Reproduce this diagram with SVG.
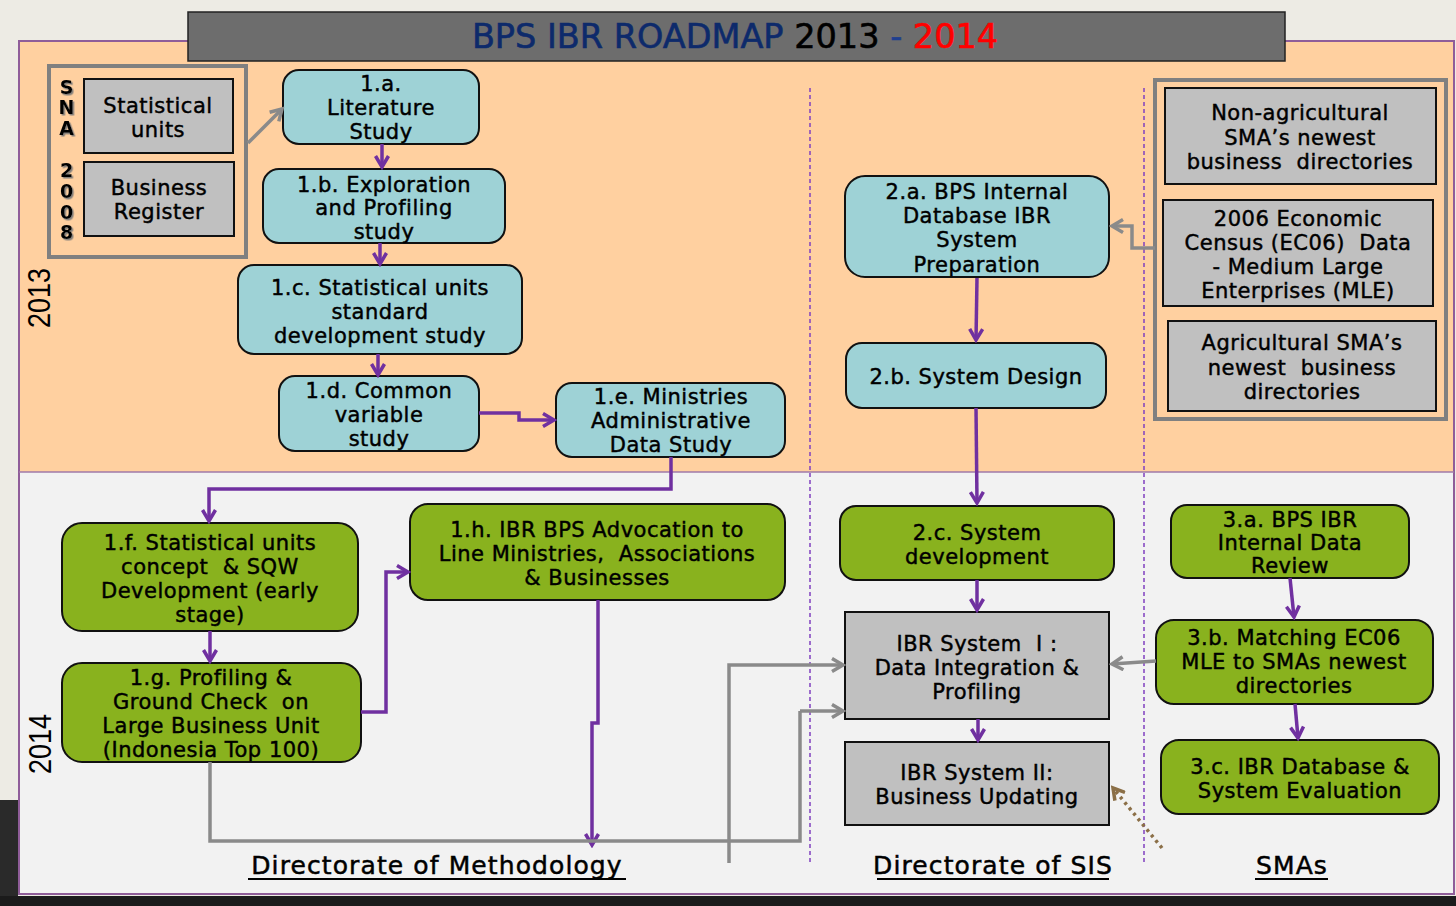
<svg xmlns="http://www.w3.org/2000/svg" width="1456" height="906" viewBox="0 0 1456 906">
<style>
.t{font-family:"DejaVu Sans",sans-serif;font-size:21px;letter-spacing:0.5px;text-anchor:middle;fill:#000;stroke:#000;stroke-width:0.45}
.teal{fill:#9ED2D6;stroke:#111;stroke-width:2}
.green{fill:#89B21E;stroke:#111;stroke-width:2}
.gray{fill:#C0C0C0;stroke:#111;stroke-width:2}
.pl{fill:none;stroke:#7030A0;stroke-width:3.5;marker-end:url(#ap)}
.gl{fill:none;stroke:#8A8A8A;stroke-width:3.5}
.ga{marker-end:url(#ag)}
.dash{stroke:#8040C0;stroke-width:1.5;stroke-dasharray:4 3}
.dir{font-family:"DejaVu Sans",sans-serif;font-size:25px;letter-spacing:1.1px;text-anchor:middle;fill:#000;stroke:#000;stroke-width:0.5}
.sna{font-family:"DejaVu Sans",sans-serif;font-size:19px;font-weight:bold;text-anchor:middle;fill:#000}
.yr{font-family:"Liberation Sans",sans-serif;font-size:32px;text-anchor:middle;fill:#000}
</style>
<defs>
<marker id="ap" viewBox="0 0 16 16" refX="13" refY="8" markerWidth="16" markerHeight="16" markerUnits="userSpaceOnUse" orient="auto"><path d="M2,1.5 L13,8 L2,14.5" fill="none" stroke="#7030A0" stroke-width="3.5"/></marker>
<marker id="ag" viewBox="0 0 16 16" refX="13" refY="8" markerWidth="16" markerHeight="16" markerUnits="userSpaceOnUse" orient="auto"><path d="M2,1.5 L13,8 L2,14.5" fill="none" stroke="#8A8A8A" stroke-width="3.5"/></marker>
<marker id="ab" viewBox="0 0 16 16" refX="13" refY="8" markerWidth="16" markerHeight="16" markerUnits="userSpaceOnUse" orient="auto"><path d="M2,1.5 L13,8 L2,14.5" fill="none" stroke="#8B6F47" stroke-width="3.5"/></marker>
<filter id="sh" x="-50%" y="-50%" width="200%" height="200%"><feDropShadow dx="1.5" dy="1.5" stdDeviation="0.6" flood-color="#777" flood-opacity="0.9"/></filter>
</defs>
<!-- page background -->
<rect x="0" y="0" width="1456" height="906" fill="#EDEBE4"/>
<rect x="0" y="800" width="18" height="106" fill="#2A2A2A"/>
<rect x="0" y="896" width="1456" height="10" fill="#1B1B1B"/>
<!-- frame -->
<g id="frame">
<rect x="19" y="41" width="1435" height="431" fill="#FFD0A0"/>
<rect x="19" y="472" width="1435" height="422" fill="#F2F2F2"/>
<rect x="19" y="41" width="1435" height="853" fill="none" stroke="#8F5D99" stroke-width="2"/>
<line x1="19" y1="472" x2="1454" y2="472" stroke="#A07AA8" stroke-width="1.5"/>
<line class="dash" x1="810" y1="88" x2="810" y2="863"/>
<line class="dash" x1="1144" y1="88" x2="1144" y2="863"/>
</g>
<!-- title -->
<g id="title">
<rect x="188" y="12" width="1097" height="49" fill="#6D6D6D" stroke="#222" stroke-width="1.5"/>
<text x="735" y="48" font-family="DejaVu Sans, sans-serif" font-size="33.5" text-anchor="middle" stroke-width="0.6"><tspan fill="#0D2A6B" stroke="#0D2A6B">BPS IBR ROADMAP</tspan><tspan fill="#000" stroke="#000"> 2013 </tspan><tspan fill="#1F3F8F" stroke="#1F3F8F">-</tspan><tspan fill="#FF0000" stroke="#FF0000"> 2014</tspan></text>
</g>
<!-- year labels -->
<text class="yr" transform="translate(50,298) rotate(-90)" textLength="60" lengthAdjust="spacingAndGlyphs">2013</text>
<text class="yr" transform="translate(51,744) rotate(-90)" textLength="60" lengthAdjust="spacingAndGlyphs">2014</text>
<!-- SNA group -->
<g id="sna">
<rect x="49" y="66" width="197" height="191" fill="none" stroke="#808080" stroke-width="4"/>
<g class="sna" filter="url(#sh)"><text x="66.5" y="94">S</text><text x="66.5" y="114">N</text><text x="66.5" y="135">A</text><text x="66.5" y="177">2</text><text x="66.5" y="198">0</text><text x="66.5" y="219">0</text><text x="66.5" y="239">8</text></g>
</g>
<g id="statunits"><rect class="gray" x="84" y="79" width="149" height="74"/><text class="t" x="158" y="113">Statistical</text><text class="t" x="158" y="137">units</text></g>
<g id="bizreg"><rect class="gray" x="84" y="162" width="150" height="74"/><text class="t" x="159" y="195">Business</text><text class="t" x="159" y="219">Register</text></g>
<!-- column 1 nodes -->
<g id="n1a"><rect class="teal" x="283" y="70" width="196" height="74" rx="16"/><text class="t" x="381" y="91">1.a.</text><text class="t" x="381" y="115">Literature</text><text class="t" x="381" y="139">Study</text></g>
<g id="n1b"><rect class="teal" x="263" y="169" width="242" height="74" rx="16"/><text class="t" x="384" y="192">1.b. Exploration</text><text class="t" x="384" y="215">and Profiling</text><text class="t" x="384" y="239">study</text></g>
<g id="n1c"><rect class="teal" x="238" y="265" width="284" height="89" rx="16"/><text class="t" x="380" y="295">1.c. Statistical units</text><text class="t" x="380" y="319">standard</text><text class="t" x="380" y="343">development study</text></g>
<g id="n1d"><rect class="teal" x="279" y="376" width="200" height="75" rx="16"/><text class="t" x="379" y="398">1.d. Common</text><text class="t" x="379" y="422">variable</text><text class="t" x="379" y="446">study</text></g>
<g id="n1e"><rect class="teal" x="556" y="383" width="229" height="74" rx="16"/><text class="t" x="671" y="404">1.e. Ministries</text><text class="t" x="671" y="428">Administrative</text><text class="t" x="671" y="452">Data Study</text></g>
<g id="n1f"><rect class="green" x="62" y="523" width="296" height="108" rx="20"/><text class="t" x="210" y="550">1.f. Statistical units</text><text class="t" x="210" y="574" xml:space="preserve">concept  &amp; SQW</text><text class="t" x="210" y="598">Development (early</text><text class="t" x="210" y="622">stage)</text></g>
<g id="n1g"><rect class="green" x="62" y="663" width="299" height="99" rx="20"/><text class="t" x="211" y="685">1.g. Profiling &amp;</text><text class="t" x="211" y="709" xml:space="preserve">Ground Check  on</text><text class="t" x="211" y="733">Large Business Unit</text><text class="t" x="211" y="757">(Indonesia Top 100)</text></g>
<g id="n1h"><rect class="green" x="410" y="504" width="375" height="96" rx="18"/><text class="t" x="597" y="537">1.h. IBR BPS Advocation to</text><text class="t" x="597" y="561" xml:space="preserve">Line Ministries,  Associations</text><text class="t" x="597" y="585">&amp; Businesses</text></g>
<!-- column 2 nodes -->
<g id="n2a"><rect class="teal" x="845" y="176" width="264" height="101" rx="20"/><text class="t" x="977" y="199">2.a. BPS Internal</text><text class="t" x="977" y="223">Database IBR</text><text class="t" x="977" y="247">System</text><text class="t" x="977" y="272">Preparation</text></g>
<g id="n2b"><rect class="teal" x="846" y="343" width="260" height="65" rx="16"/><text class="t" x="976" y="384">2.b. System Design</text></g>
<g id="n2c"><rect class="green" x="840" y="506" width="274" height="74" rx="16"/><text class="t" x="977" y="540">2.c. System</text><text class="t" x="977" y="564">development</text></g>
<g id="ibr1"><rect class="gray" x="845" y="612" width="264" height="107"/><text class="t" x="977" y="651" xml:space="preserve">IBR System  I :</text><text class="t" x="977" y="675">Data Integration &amp;</text><text class="t" x="977" y="699">Profiling</text></g>
<g id="ibr2"><rect class="gray" x="845" y="742" width="264" height="83"/><text class="t" x="977" y="780">IBR System II:</text><text class="t" x="977" y="804">Business Updating</text></g>
<!-- SMA sources -->
<g id="smabox"><rect x="1155" y="80" width="291" height="339" fill="none" stroke="#808080" stroke-width="4"/></g>
<g id="nonag"><rect class="gray" x="1165" y="88" width="271" height="96"/><text class="t" x="1300" y="120">Non-agricultural</text><text class="t" x="1300" y="145">SMA’s newest</text><text class="t" x="1300" y="169" xml:space="preserve">business  directories</text></g>
<g id="ec06"><rect class="gray" x="1163" y="200" width="270" height="106"/><text class="t" x="1298" y="226">2006 Economic</text><text class="t" x="1298" y="250" xml:space="preserve">Census (EC06)  Data</text><text class="t" x="1298" y="274">- Medium Large</text><text class="t" x="1298" y="298">Enterprises (MLE)</text></g>
<g id="agri"><rect class="gray" x="1168" y="321" width="268" height="90"/><text class="t" x="1302" y="350">Agricultural SMA’s</text><text class="t" x="1302" y="375" xml:space="preserve">newest  business</text><text class="t" x="1302" y="399">directories</text></g>
<!-- column 3 nodes -->
<g id="n3a"><rect class="green" x="1171" y="505" width="238" height="73" rx="16"/><text class="t" x="1290" y="527">3.a. BPS IBR</text><text class="t" x="1290" y="550">Internal Data</text><text class="t" x="1290" y="573">Review</text></g>
<g id="n3b"><rect class="green" x="1156" y="620" width="277" height="84" rx="18"/><text class="t" x="1294" y="645">3.b. Matching EC06</text><text class="t" x="1294" y="669">MLE to SMAs newest</text><text class="t" x="1294" y="693">directories</text></g>
<g id="n3c"><rect class="green" x="1161" y="740" width="278" height="74" rx="18"/><text class="t" x="1300" y="774">3.c. IBR Database &amp;</text><text class="t" x="1300" y="798">System Evaluation</text></g>
<!-- connectors -->
<g id="connectors">
<path class="gl ga" d="M248,143 L282,109"/>
<path class="pl" d="M382,144 L382,167"/>
<path class="pl" d="M380,243 L380,264"/>
<path class="pl" d="M378,354 L378,375"/>
<path class="pl" d="M479,413 L519,413 L519,420 L554,420"/>
<path class="pl" d="M671,457 L671,489 L209,489 L209,521"/>
<path class="pl" d="M210,631 L210,661"/>
<path class="pl" d="M361,712 L386,712 L386,572 L408,572"/>
<path class="pl" d="M598,600 L598,723 L592,723 L592,845"/>
<path class="gl" d="M210,762 L210,841 L800,841 L800,711"/>
<path class="gl ga" d="M800,711 L843,711"/>
<path class="gl ga" d="M729,863 L729,665 L843,665"/>
<path class="pl" d="M977,278 L976,340"/>
<path class="pl" d="M976,408 L977,503"/>
<path class="pl" d="M977,580 L977,610"/>
<path class="pl" d="M978,719 L978,740"/>
<path class="gl ga" d="M1155,248 L1132,248 L1132,226 L1112,226"/>
<path class="pl" d="M1290,578 L1294,617"/>
<path class="pl" d="M1295,704 L1298,738"/>
<path class="gl ga" d="M1156,661 L1112,664"/>
<path d="M1162,848 L1113,788" fill="none" stroke="#8B6F47" stroke-width="3.5" stroke-dasharray="3 4" marker-end="url(#ab)"/>
</g>
<!-- directorate labels -->
<g id="labels">
<text class="dir" x="437" y="874">Directorate of Methodology</text>
<line x1="248" y1="879" x2="626" y2="879" stroke="#000" stroke-width="2"/>
<text class="dir" x="993" y="874">Directorate of SIS</text>
<line x1="877" y1="879" x2="1109" y2="879" stroke="#000" stroke-width="2"/>
<text class="dir" x="1292" y="874">SMAs</text>
<line x1="1255" y1="879" x2="1328" y2="879" stroke="#000" stroke-width="2"/>
</g>
</svg>
